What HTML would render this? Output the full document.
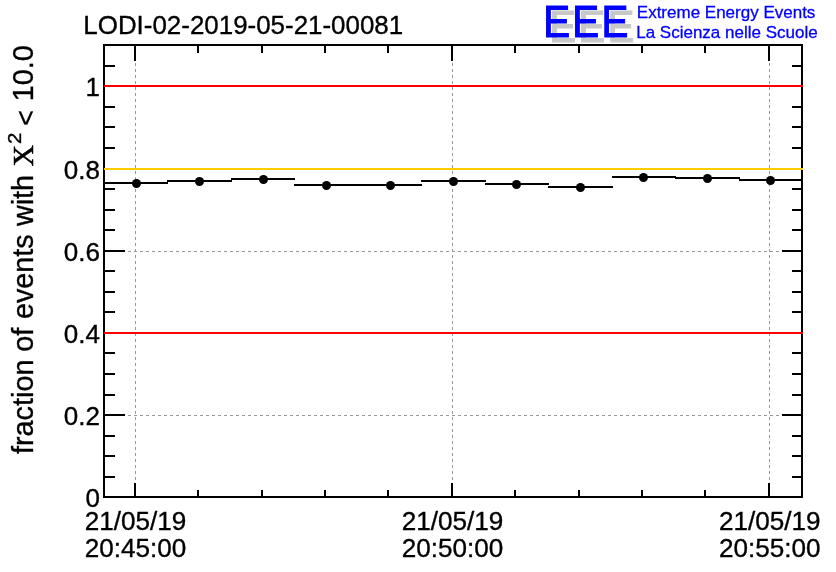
<!DOCTYPE html>
<html><head><meta charset="utf-8"><title>LODI-02-2019-05-21-00081</title>
<style>html,body{margin:0;padding:0;background:#fff}body{width:836px;height:572px;overflow:hidden}svg{display:block;will-change:transform}text{font-family:"Liberation Sans",sans-serif;fill:#000;stroke:#000;stroke-width:0.35px}</style>
</head><body>
<svg width="836" height="572" viewBox="0 0 836 572">
<rect width="836" height="572" fill="#fff"/>
<g shape-rendering="crispEdges" stroke="#999999" stroke-width="1" stroke-dasharray="3,3" fill="none">
<line x1="135.5" y1="45" x2="135.5" y2="498"/>
<line x1="452.5" y1="45" x2="452.5" y2="498"/>
<line x1="769.5" y1="45" x2="769.5" y2="498"/>
<line x1="104" y1="415.5" x2="803" y2="415.5"/>
<line x1="104" y1="333.5" x2="803" y2="333.5"/>
<line x1="104" y1="251.5" x2="803" y2="251.5"/>
<line x1="104" y1="169.5" x2="803" y2="169.5"/>
<line x1="104" y1="86.5" x2="803" y2="86.5"/>
</g>
<g shape-rendering="crispEdges" fill="#000">
<rect x="103" y="44" width="700" height="2"/>
<rect x="103" y="496" width="700" height="2"/>
<rect x="103" y="44" width="2" height="454"/>
<rect x="801" y="44" width="2" height="454"/>
<rect x="134" y="483" width="2" height="15"/>
<rect x="134" y="44" width="2" height="17"/>
<rect x="197" y="490" width="2" height="8"/>
<rect x="197" y="44" width="2" height="9"/>
<rect x="261" y="490" width="2" height="8"/>
<rect x="261" y="44" width="2" height="9"/>
<rect x="324" y="490" width="2" height="8"/>
<rect x="324" y="44" width="2" height="9"/>
<rect x="387" y="490" width="2" height="8"/>
<rect x="387" y="44" width="2" height="9"/>
<rect x="451" y="483" width="2" height="15"/>
<rect x="451" y="44" width="2" height="17"/>
<rect x="514" y="490" width="2" height="8"/>
<rect x="514" y="44" width="2" height="9"/>
<rect x="578" y="490" width="2" height="8"/>
<rect x="578" y="44" width="2" height="9"/>
<rect x="641" y="490" width="2" height="8"/>
<rect x="641" y="44" width="2" height="9"/>
<rect x="704" y="490" width="2" height="8"/>
<rect x="704" y="44" width="2" height="9"/>
<rect x="768" y="483" width="2" height="15"/>
<rect x="768" y="44" width="2" height="17"/>
<rect x="103" y="476" width="12" height="2"/>
<rect x="792" y="476" width="11" height="2"/>
<rect x="103" y="455" width="12" height="2"/>
<rect x="792" y="455" width="11" height="2"/>
<rect x="103" y="435" width="12" height="2"/>
<rect x="792" y="435" width="11" height="2"/>
<rect x="103" y="414" width="22" height="2"/>
<rect x="782" y="414" width="21" height="2"/>
<rect x="103" y="394" width="12" height="2"/>
<rect x="792" y="394" width="11" height="2"/>
<rect x="103" y="373" width="12" height="2"/>
<rect x="792" y="373" width="11" height="2"/>
<rect x="103" y="352" width="12" height="2"/>
<rect x="792" y="352" width="11" height="2"/>
<rect x="103" y="332" width="22" height="2"/>
<rect x="782" y="332" width="21" height="2"/>
<rect x="103" y="311" width="12" height="2"/>
<rect x="792" y="311" width="11" height="2"/>
<rect x="103" y="291" width="12" height="2"/>
<rect x="792" y="291" width="11" height="2"/>
<rect x="103" y="270" width="12" height="2"/>
<rect x="792" y="270" width="11" height="2"/>
<rect x="103" y="250" width="22" height="2"/>
<rect x="782" y="250" width="21" height="2"/>
<rect x="103" y="229" width="12" height="2"/>
<rect x="792" y="229" width="11" height="2"/>
<rect x="103" y="209" width="12" height="2"/>
<rect x="792" y="209" width="11" height="2"/>
<rect x="103" y="188" width="12" height="2"/>
<rect x="792" y="188" width="11" height="2"/>
<rect x="103" y="168" width="22" height="2"/>
<rect x="782" y="168" width="21" height="2"/>
<rect x="103" y="147" width="12" height="2"/>
<rect x="792" y="147" width="11" height="2"/>
<rect x="103" y="126" width="12" height="2"/>
<rect x="792" y="126" width="11" height="2"/>
<rect x="103" y="106" width="12" height="2"/>
<rect x="792" y="106" width="11" height="2"/>
<rect x="103" y="85" width="22" height="2"/>
<rect x="782" y="85" width="21" height="2"/>
<rect x="103" y="65" width="12" height="2"/>
<rect x="792" y="65" width="11" height="2"/>
</g>
<g shape-rendering="crispEdges">
<rect x="104" y="85" width="699" height="2" fill="#ff0000"/>
<rect x="104" y="332" width="699" height="2" fill="#ff0000"/>
<rect x="104" y="168" width="699" height="2" fill="#ffcc00"/>
<rect x="104" y="182" width="64" height="2" fill="#000"/>
<rect x="167" y="180" width="65" height="2" fill="#000"/>
<rect x="231" y="178" width="64" height="2" fill="#000"/>
<rect x="294" y="184" width="64" height="2" fill="#000"/>
<rect x="358" y="184" width="64" height="2" fill="#000"/>
<rect x="421" y="180" width="65" height="2" fill="#000"/>
<rect x="485" y="183" width="64" height="2" fill="#000"/>
<rect x="548" y="186" width="65" height="2" fill="#000"/>
<rect x="612" y="176" width="64" height="2" fill="#000"/>
<rect x="675" y="177" width="65" height="2" fill="#000"/>
<rect x="739" y="179" width="63" height="2" fill="#000"/>
</g>
<g fill="#000">
<circle cx="136.5" cy="183.5" r="4.5"/>
<circle cx="199.5" cy="181.5" r="4.5"/>
<circle cx="263.5" cy="179.5" r="4.5"/>
<circle cx="326.5" cy="185.5" r="4.5"/>
<circle cx="390.5" cy="185.5" r="4.5"/>
<circle cx="453.5" cy="181.5" r="4.5"/>
<circle cx="516.5" cy="184.5" r="4.5"/>
<circle cx="580.5" cy="187.5" r="4.5"/>
<circle cx="643.5" cy="177.5" r="4.5"/>
<circle cx="707.5" cy="178.5" r="4.5"/>
<circle cx="770.5" cy="180.5" r="4.5"/>
</g>
<g font-size="26" text-anchor="end">
<text x="99.9" y="506.6">0</text>
<text x="99.9" y="424.6">0.2</text>
<text x="99.9" y="342.6">0.4</text>
<text x="99.9" y="260.6">0.6</text>
<text x="99.9" y="178.6">0.8</text>
<text x="99.9" y="95.6">1</text>
</g>
<g font-size="26.1" text-anchor="middle">
<text x="135.5" y="529.5">21/05/19</text>
<text x="135.5" y="556.7">20:45:00</text>
<text x="452.6" y="529.5">21/05/19</text>
<text x="452.6" y="556.7">20:50:00</text>
<text x="769.7" y="529.5">21/05/19</text>
<text x="769.7" y="556.7">20:55:00</text>
</g>
<text x="83.3" y="33.5" font-size="25.93">LODI-02-2019-05-21-00081</text>
<g transform="translate(33.2,454) rotate(-90)" font-size="28.8">
<text x="0" y="0">fraction</text>
<text x="102.3" y="0">of</text>
<text x="134.9" y="0">events</text>
<text x="227.9" y="0">with</text>
<text x="287.6" y="0.2" font-size="30" style="font-family:'Liberation Serif',serif;stroke:#000;stroke-width:0.5">Χ</text>
<text x="310" y="-12" font-size="18.4" textLength="11.4" lengthAdjust="spacingAndGlyphs">2</text>
<text x="328.2" y="2.0" font-size="26.8">&lt;</text>
<text x="352.8" y="0">10.0</text>
</g>
<text transform="scale(0.924,1)" x="594.37 625.87 657.36" y="41.9" font-size="43.6" style="fill:#c8c8c8;stroke:#c8c8c8;stroke-width:1.1;stroke-linejoin:miter">EEE</text>
<text transform="scale(0.924,1)" x="587.88 619.37 650.87" y="36.9" font-size="43.6" style="fill:#0000ff;stroke:#0000ff;stroke-width:1.1;stroke-linejoin:miter">EEE</text>
<g font-size="17">
<text x="636.8" y="17.6" style="fill:#0000ff;stroke:#0000ff;stroke-width:0.3px">Extreme Energy Events</text>
<text x="636.2" y="38.3" style="fill:#0000ff;stroke:#0000ff;stroke-width:0.3px">La Scienza nelle Scuole</text>
</g>
</svg>
</body></html>
